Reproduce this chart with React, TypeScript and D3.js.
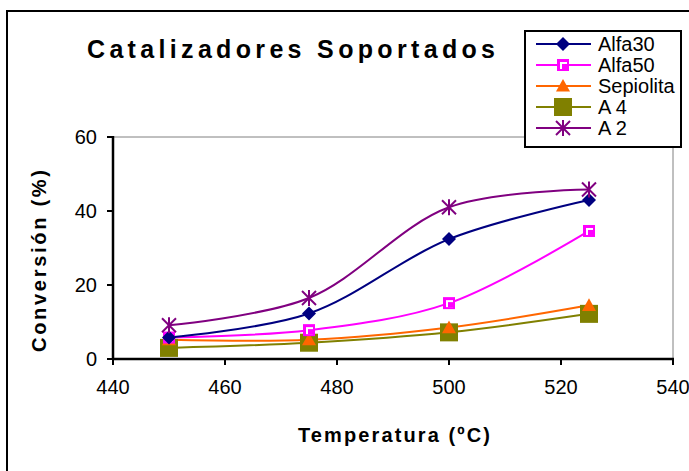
import React from "react";
import * as d3 from "d3";

const temps = [450, 475, 500, 525];
const alfa30 = [5.8, 12.3, 32.4, 43.0];
const alfa50 = [5.8, 7.8, 15.1, 34.6];
const sepiolita = [5.2, 5.2, 8.5, 14.5];
const a4 = [3.0, 4.4, 7.2, 12.2];
const a2 = [9.1, 16.5, 41.0, 45.8];
const xTicks = [440, 460, 480, 500, 520, 540];
const yTicks = [0, 20, 40, 60];
const seriesNames = ["Alfa30", "Alfa50", "Sepiolita", "A 4", "A 2"];

const colors = ["#000080", "#FF00FF", "#FF6600", "#808000", "#800080"];
const markerTypes = ["diamond", "hsquare", "triangle", "square", "star"];

const W = 689;
const H = 471;
const left = 113, right = 673, top = 137, bottom = 359;

function Marker({ type, x, y, color }: { type: string; x: number; y: number; color: string }) {
  if (type === "diamond") {
    const s = 7;
    return <path d={`M${x},${y - s}L${x + s},${y}L${x},${y + s}L${x - s},${y}Z`} fill={color} />;
  }
  if (type === "hsquare") {
    const s = 6;
    return (
      <g>
        <rect x={x - s} y={y - s} width={2 * s} height={2 * s} fill={color} />
        <rect x={x - s + 3} y={y - s + 3} width={2 * s - 5} height={2 * s - 5} fill="#fff" />
        <rect x={x - s + 5} y={y - s + 5} width={2 * s - 7} height={2 * s - 7} fill={color} />
      </g>
    );
  }
  if (type === "triangle") {
    const s = 7;
    return <path d={`M${x},${y - s}L${x + s},${y + s * 0.8}L${x - s},${y + s * 0.8}Z`} fill={color} />;
  }
  if (type === "square") {
    const s = 9;
    return <rect x={x - s} y={y - s} width={2 * s} height={2 * s} fill={color} />;
  }
  const s = 7;
  return (
    <g stroke={color} strokeWidth={2}>
      <line x1={x - s} y1={y - s} x2={x + s} y2={y + s} />
      <line x1={x - s} y1={y + s} x2={x + s} y2={y - s} />
      <line x1={x} y1={y - s - 1} x2={x} y2={y + s + 1} />
    </g>
  );
}

export default function App() {
  const x = d3.scaleLinear().domain([440, 540]).range([left, right]);
  const y = d3.scaleLinear().domain([0, 60]).range([bottom, top]);
  const data = [alfa30, alfa50, sepiolita, a4, a2];
  const line = d3
    .line<[number, number]>()
    .x((d) => x(d[0]))
    .y((d) => y(d[1]))
    .curve(d3.curveCatmullRom.alpha(0.5));
  const font = "Liberation Sans, Arial, sans-serif";
  const drawOrder = [3, 2, 1, 0, 4];

  return (
    <svg
      width={W}
      height={H}
      style={{ position: "absolute", left: 0, top: 0, background: "#fff" }}
      fontFamily={font}
    >
      <rect x={0} y={0} width={W} height={H} fill="#fff" />
      <rect x={7} y={11} width={W + 20} height={H + 20} fill="none" stroke="#000" strokeWidth={2} />
      <text x={87} y={58} fontSize={25} fontWeight="bold" textLength={408} lengthAdjust="spacing">
        Catalizadores Soportados
      </text>

      <line x1={left} x2={right} y1={top} y2={top} stroke="#808080" strokeWidth={1} />
      <line x1={right} x2={right} y1={top} y2={bottom} stroke="#808080" strokeWidth={1} />

      {drawOrder.map((i) => (
        <path
          key={"l" + i}
          d={line(temps.map((t, j) => [t, data[i][j]] as [number, number])) || ""}
          fill="none"
          stroke={colors[i]}
          strokeWidth={2}
        />
      ))}
      {drawOrder.map((i) =>
        temps.map((t, j) => (
          <Marker key={"m" + i + "-" + j} type={markerTypes[i]} x={x(t)} y={y(data[i][j])} color={colors[i]} />
        ))
      )}

      <line x1={left} x2={left} y1={top - 1} y2={bottom + 1} stroke="#000" strokeWidth={2.5} />
      <line x1={left - 1} x2={right + 1} y1={bottom} y2={bottom} stroke="#000" strokeWidth={2.5} />
      {yTicks.map((t) => (
        <g key={"yt" + t}>
          <line x1={left - 6} x2={left} y1={y(t)} y2={y(t)} stroke="#000" strokeWidth={2} />
          <text x={97} y={y(t) + 7} fontSize={20} textAnchor="end">
            {t}
          </text>
        </g>
      ))}
      {xTicks.map((t) => (
        <g key={"xt" + t}>
          <line x1={x(t)} x2={x(t)} y1={bottom} y2={bottom + 6} stroke="#000" strokeWidth={2} />
          <text x={x(t)} y={394} fontSize={20} textAnchor="middle">
            {t}
          </text>
        </g>
      ))}

      <text x={394} y={442} fontSize={20} fontWeight="bold" textAnchor="middle" textLength={192} lengthAdjust="spacing">
        Temperatura (ºC)
      </text>
      <text
        transform="translate(46,261) rotate(-90)"
        fontSize={20}
        fontWeight="bold"
        textAnchor="middle"
        textLength={182}
        lengthAdjust="spacing"
      >
        Conversión (%)
      </text>

      <rect x={525} y={31} width={156} height={116} fill="#fff" stroke="#000" strokeWidth={2} />
      {seriesNames.map((n, i) => {
        const cy = 44 + i * 21;
        return (
          <g key={"lg" + i}>
            <line x1={536} x2={591} y1={cy} y2={cy} stroke={colors[i]} strokeWidth={2} />
            <Marker type={markerTypes[i]} x={563} y={cy} color={colors[i]} />
            <text x={598} y={cy + 7} fontSize={20}>
              {n}
            </text>
          </g>
        );
      })}
    </svg>
  );
}
